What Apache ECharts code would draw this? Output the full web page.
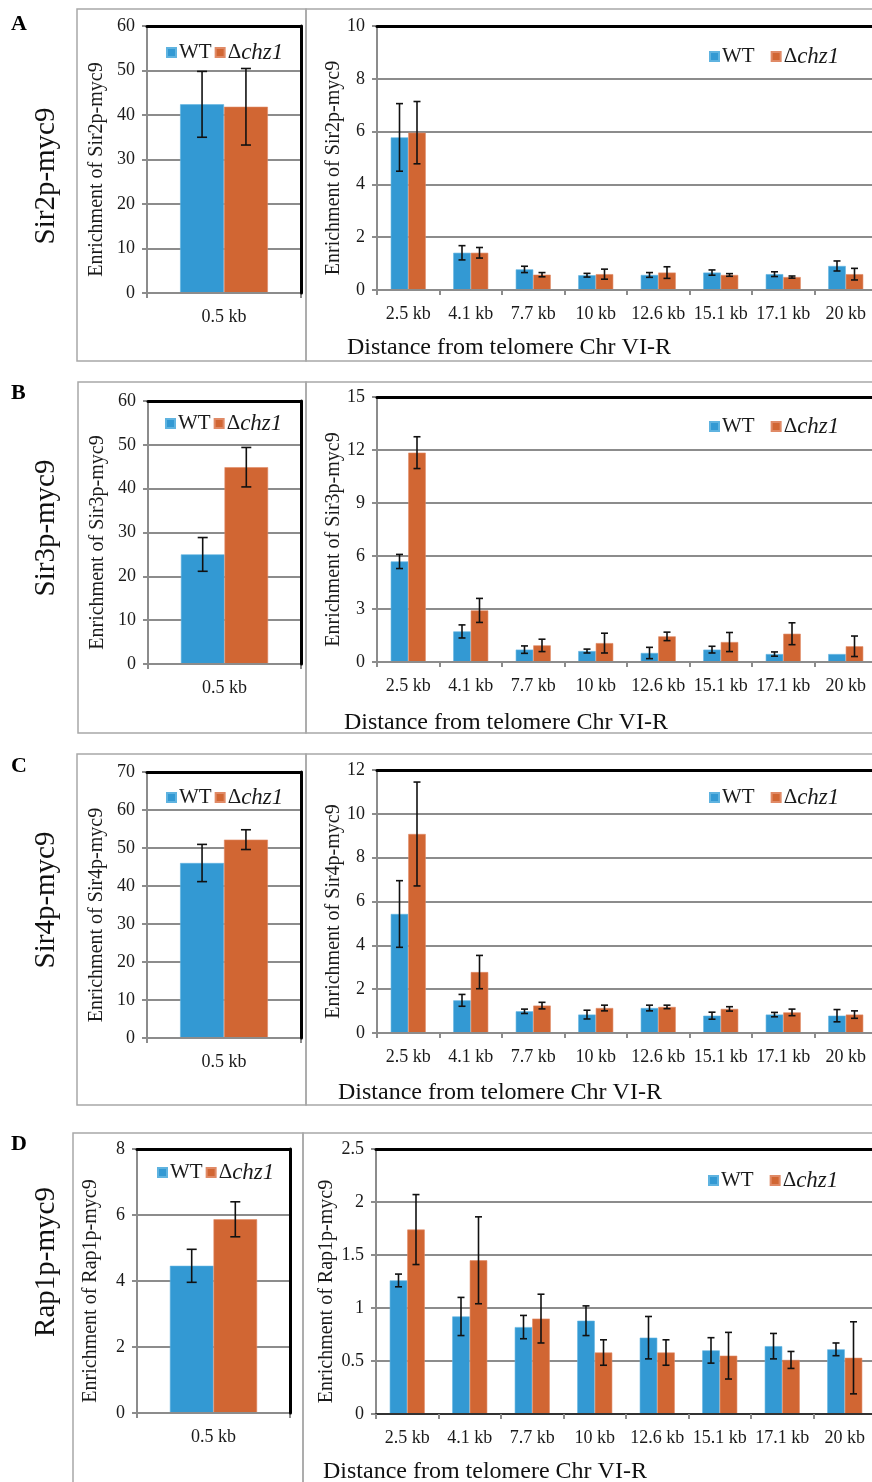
<!DOCTYPE html>
<html><head><meta charset="utf-8">
<script src="https://cdn.jsdelivr.net/npm/echarts@6/dist/echarts.min.js"></script>
<style>html,body{margin:0;padding:0;background:#fff}#c{width:872px;height:1482px}</style>
</head><body><div id="c"></div>
<script>
// ---------- DATA ----------
const catsLeft = ['0.5 kb'];
const cats = ['2.5 kb','4.1 kb','7.7 kb','10 kb','12.6 kb','15.1 kb','17.1 kb','20 kb'];
const seriesNames = ['WT', 'Δchz1'];

// A: Sir2p-myc9
const sir2LeftWT = [42.4], sir2LeftWTErr = [7.4];
const sir2LeftChz = [41.85], sir2LeftChzErr = [8.6];
const sir2WT = [5.78, 1.41, 0.78, 0.56, 0.57, 0.66, 0.60, 0.91];
const sir2WTErr = [1.28, 0.27, 0.12, 0.07, 0.09, 0.10, 0.09, 0.19];
const sir2Chz = [5.96, 1.41, 0.58, 0.60, 0.66, 0.57, 0.49, 0.60];
const sir2ChzErr = [1.18, 0.20, 0.08, 0.19, 0.22, 0.05, 0.04, 0.22];

// B: Sir3p-myc9
const sir3LeftWT = [25.0], sir3LeftWTErr = [3.85];
const sir3LeftChz = [44.9], sir3LeftChzErr = [4.5];
const sir3WT = [5.69, 1.73, 0.70, 0.62, 0.51, 0.70, 0.45, 0.45];
const sir3WTErr = [0.40, 0.37, 0.21, 0.11, 0.32, 0.19, 0.12, 0];
const sir3Chz = [11.85, 2.92, 0.94, 1.07, 1.45, 1.13, 1.60, 0.89];
const sir3ChzErr = [0.90, 0.68, 0.35, 0.56, 0.24, 0.54, 0.62, 0.58];

// C: Sir4p-myc9
const sir4LeftWT = [46.05], sir4LeftWTErr = [4.9];
const sir4LeftChz = [52.2], sir4LeftChzErr = [2.6];
const sir4WT = [5.43, 1.49, 0.99, 0.84, 1.14, 0.79, 0.84, 0.79];
const sir4WTErr = [1.52, 0.27, 0.10, 0.20, 0.13, 0.16, 0.10, 0.28];
const sir4Chz = [9.08, 2.78, 1.25, 1.14, 1.19, 1.10, 0.94, 0.84];
const sir4ChzErr = [2.37, 0.76, 0.15, 0.13, 0.08, 0.10, 0.15, 0.17];

// D: Rap1p-myc9
const rap1LeftWT = [4.46], rap1LeftWTErr = [0.5];
const rap1LeftChz = [5.87], rap1LeftChzErr = [0.53];
const rap1WT = [1.26, 0.92, 0.82, 0.88, 0.72, 0.60, 0.64, 0.61];
const rap1WTErr = [0.06, 0.18, 0.11, 0.14, 0.20, 0.12, 0.12, 0.06];
const rap1Chz = [1.74, 1.45, 0.90, 0.58, 0.58, 0.55, 0.51, 0.53];
const rap1ChzErr = [0.33, 0.41, 0.23, 0.12, 0.12, 0.22, 0.08, 0.34];

// axis scales / texts
const panelLetters = ['A', 'B', 'C', 'D'];
const proteins = ['Sir2p-myc9', 'Sir3p-myc9', 'Sir4p-myc9', 'Rap1p-myc9'];
const leftMax = [60, 60, 70, 8], leftInterval = [10, 10, 10, 2];
const rightMax = [10, 15, 12, 2.5], rightInterval = [2, 3, 2, 0.5];
const xName = 'Distance from telomere Chr VI-R';

// ---------- STYLE / LAYOUT ----------
const FONT = '"Liberation Serif","Times New Roman",serif';
const BLUE = '#3399d3', ORANGE = '#d16633';
const GRAY = '#8c8c8c';

const panelData = [
  {l: [sir2LeftWT, sir2LeftWTErr, sir2LeftChz, sir2LeftChzErr], r: [sir2WT, sir2WTErr, sir2Chz, sir2ChzErr]},
  {l: [sir3LeftWT, sir3LeftWTErr, sir3LeftChz, sir3LeftChzErr], r: [sir3WT, sir3WTErr, sir3Chz, sir3ChzErr]},
  {l: [sir4LeftWT, sir4LeftWTErr, sir4LeftChz, sir4LeftChzErr], r: [sir4WT, sir4WTErr, sir4Chz, sir4ChzErr]},
  {l: [rap1LeftWT, rap1LeftWTErr, rap1LeftChz, rap1LeftChzErr], r: [rap1WT, rap1WTErr, rap1Chz, rap1ChzErr]}
];

const layout = [
  {boxY: 9, boxH: 352, boxL: 77, boxJ: 306, lg: {left: 147, top: 26, width: 154, height: 267}, rg: {left: 377, top: 26, width: 500, height: 264},
   letterY: 13, protY: 176, xnX: 347, xnY: 348, llg: [166, 41], rlg: [709, 45], lGap: 40, rGap: 33},
  {boxY: 382, boxH: 351, boxL: 78, boxJ: 306, lg: {left: 148, top: 401, width: 153, height: 263}, rg: {left: 377, top: 397, width: 500, height: 265},
   letterY: 382, protY: 528, xnX: 344, xnY: 723, llg: [165, 412], rlg: [709, 415], lGap: 40, rGap: 33},
  {boxY: 754, boxH: 351, boxL: 77, boxJ: 306, lg: {left: 147, top: 772, width: 154, height: 266}, rg: {left: 377, top: 770, width: 500, height: 263},
   letterY: 755, protY: 900, xnX: 338, xnY: 1093, llg: [166, 786], rlg: [709, 786], lGap: 40, rGap: 33},
  {boxY: 1133, boxH: 360, boxL: 73, boxJ: 303, lg: {left: 137, top: 1149, width: 153, height: 264}, rg: {left: 376, top: 1149, width: 500, height: 265},
   letterY: 1133, protY: 1262, xnX: 323, xnY: 1472, llg: [157, 1161], rlg: [708, 1169], lGap: 36, rGap: 39}
];

const grid = [], xAxis = [], yAxis = [], series = [], legend = [], graphic = [];

function legendFormatter(name) {
  return name === 'WT' ? '{n|WT}' : '{n|Δ}{i|chz1}';
}

function errorRenderer(sign, gapRatio, capHalf) {
  return function (params, api) {
    const cat = api.value(0), v = api.value(1), e = api.value(2);
    if (!e) return null;
    const band = api.size([1, 0])[0];
    const bw = band * (1 - gapRatio) / 2;
    const x = api.coord([cat, v])[0] + sign * bw / 2;
    const yt = api.coord([cat, v + e])[1];
    const yb = api.coord([cat, v - e])[1];
    const st = {stroke: '#111', lineWidth: 1.6};
    return {type: 'group', children: [
      {type: 'line', shape: {x1: x, y1: yt, x2: x, y2: yb}, style: st},
      {type: 'line', shape: {x1: x - capHalf, y1: yt, x2: x + capHalf, y2: yt}, style: st},
      {type: 'line', shape: {x1: x - capHalf, y1: yb, x2: x + capHalf, y2: yb}, style: st}
    ]};
  };
}

function addChart(g, cfg) {
  grid.push(Object.assign({show: false, outerBoundsMode: 'none'}, cfg.rect));
  const gi = grid.length - 1;
  xAxis.push({gridIndex: gi, type: 'category', data: cfg.cats, position: 'bottom', z: 3,
    axisLine: {show: true, onZero: false, lineStyle: {color: cfg.bottomColor || GRAY, width: 2}},
    axisTick: {show: true, length: 5, alignWithLabel: false, lineStyle: {color: GRAY, width: 2}},
    axisLabel: {fontFamily: FONT, fontSize: 18, color: '#1a1a1a', margin: 15, interval: 0},
    splitLine: {show: false}});
  const xb = xAxis.length - 1;
  xAxis.push({gridIndex: gi, type: 'category', data: cfg.cats, position: 'top', z: 5,
    axisLine: {show: true, onZero: false, lineStyle: {color: '#000', width: 3}}, axisTick: {show: false}, axisLabel: {show: false}, splitLine: {show: false}});
  yAxis.push({gridIndex: gi, type: 'value', min: 0, max: cfg.max, interval: cfg.interval, position: 'left',
    axisLine: {show: true, onZero: false, lineStyle: {color: GRAY, width: 2}},
    axisTick: {show: true, length: 5, inside: false, lineStyle: {color: GRAY, width: 2}},
    axisLabel: {fontFamily: FONT, fontSize: 18, color: '#1a1a1a', margin: 12},
    splitLine: {show: true, lineStyle: {color: GRAY, width: 2}},
    name: 'Enrichment of ' + cfg.protein, nameLocation: 'middle', nameGap: cfg.nameGap, nameMoveOverlap: false,
    nameTextStyle: {fontFamily: FONT, fontSize: 20, color: '#1a1a1a', padding: [0, 20, 0, 0]}});
  const yl = yAxis.length - 1;
  yAxis.push({gridIndex: gi, type: 'value', min: 0, max: cfg.max, interval: cfg.interval, position: 'right', z: 5,
    axisLine: {show: true, onZero: false, lineStyle: {color: '#000', width: 3}}, axisTick: {show: false}, axisLabel: {show: false}, splitLine: {show: false}});
  const vals = cfg.vals;
  const cols = [BLUE, ORANGE];
  for (let s = 0; s < 2; s++) {
    series.push({type: 'bar', name: seriesNames[s], xAxisIndex: xb, yAxisIndex: yl,
      data: vals[2 * s], barGap: '0%', barCategoryGap: (cfg.gap * 100) + '%',
      itemStyle: {color: cols[s], borderColor: s === 0 ? '#5fb3e0' : '#e08a66', borderWidth: 0.6}, z: 2});
  }
  for (let s = 0; s < 2; s++) {
    const v = vals[2 * s], e = vals[2 * s + 1];
    series.push({type: 'custom', name: 'err' + s, xAxisIndex: xb, yAxisIndex: yl, z: 6,
      renderItem: errorRenderer(s === 0 ? -1 : 1, cfg.gap, cfg.cap),
      encode: {x: 0, y: 1},
      data: cfg.cats.map((c, i) => [i, v[i], e[i]])});
  }
  legend.push({data: seriesNames, left: cfg.leg[0], top: cfg.leg[1], orient: 'horizontal', padding: 0,
    icon: 'rect', itemWidth: 9, itemHeight: 9, itemGap: cfg.legGap, selectedMode: false,
    formatter: legendFormatter,
    textStyle: {fontFamily: FONT, fontSize: 21, color: '#1a1a1a', padding: [0, 0, 0, -2],
      rich: {n: {fontFamily: FONT, fontSize: 21, color: '#1a1a1a'}, i: {fontFamily: FONT, fontSize: 23, fontStyle: 'italic', color: '#1a1a1a'}}}});
}

for (let p = 0; p < 4; p++) {
  const L = layout[p], D = panelData[p];
  graphic.push({type: 'rect', z: -10, shape: {x: L.boxL, y: L.boxY, width: L.boxJ - L.boxL, height: L.boxH}, style: {fill: null, stroke: '#a8a8a8', lineWidth: 1.5}});
  graphic.push({type: 'rect', z: -10, shape: {x: L.boxJ, y: L.boxY, width: 590, height: L.boxH}, style: {fill: null, stroke: '#a8a8a8', lineWidth: 1.5}});
  graphic.push({type: 'text', x: 11, y: L.letterY, style: {text: panelLetters[p], fontFamily: FONT, fontSize: 22, fontWeight: 'bold', fill: '#000'}});
  graphic.push({type: 'text', x: 46, y: L.protY, rotation: Math.PI / 2, style: {text: proteins[p], fontFamily: FONT, fontSize: 29, fill: '#111', align: 'center', verticalAlign: 'middle'}});
  graphic.push({type: 'text', x: L.xnX, y: L.xnY, style: {text: xName, fontFamily: FONT, fontSize: 24, fill: '#111', align: 'left', verticalAlign: 'middle'}});

  addChart(p, {rect: L.lg, cats: catsLeft, max: leftMax[p], interval: leftInterval[p], protein: proteins[p],
    nameGap: L.lGap, vals: D.l, gap: 0.43, cap: 5, leg: L.llg, legGap: 3});
  addChart(p, {rect: L.rg, cats: cats, max: rightMax[p], interval: rightInterval[p], protein: proteins[p],
    nameGap: L.rGap, vals: D.r, gap: 0.44, cap: 3.5, leg: L.rlg, legGap: 16, bottomColor: p === 3 ? '#333' : GRAY});
}

const chart = echarts.init(document.getElementById('c'), null, {renderer: 'canvas'});
chart.setOption({
  backgroundColor: '#fff',
  animation: false,
  grid, xAxis, yAxis, series, legend, graphic,
  tooltip: {show: false}
});
</script></body></html>
